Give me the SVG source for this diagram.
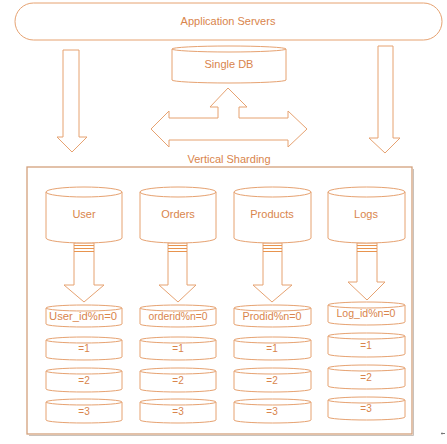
<svg xmlns="http://www.w3.org/2000/svg" width="447" height="444" viewBox="0 0 447 444">
<style>
.s{fill:#fff;stroke:#E6A271;stroke-width:1}
.t{font-family:"Liberation Sans",Arial,sans-serif;fill:#D9854C;text-anchor:middle;dominant-baseline:central}
.big{font-size:11px}
.sm{font-size:10px}
.h{stroke:#E8944E;stroke-width:1.2}
</style>
<rect width="447" height="444" fill="#fff"/>
<g id="frame">
<rect x="27" y="167" width="385" height="267" fill="none" stroke="#D3A07C" stroke-width="1.3"/>
<path d="M413.5 169 V435.5 H29" fill="none" stroke="#C9C2BC" stroke-width="1"/>
</g>
<g id="app-servers">
<rect class="s" x="15" y="3" width="427" height="37" rx="18.5"/>
<text class="t big" x="228" y="21">Application Servers</text>
</g>
<g id="single-db">
<path class="s" d="M172 49 a57 3 0 0 0 114 0 a57 3 0 0 0 -114 0 v31 a57 3 0 0 0 114 0 v-31"/>
<text class="t big" x="229" y="64">Single DB</text>
</g>
<g id="connectors">
<polygon class="s" points="63,50 79,50 79,137 87,137 72,152 57,137 63,137"/>
<polygon class="s" points="378,46 393,46 393,138 400,138 385,153 369,138 378,138"/>
<polygon class="s" points="228,88 247,107 239,107 239,118 288,118 288,111 307,129 288,147 288,140 169,140 169,147 151,129 169,111 169,118 218,118 218,107 210,107"/>
<polygon class="s" points="74,243 94,243 94,285 104,285 84,302 64,285 74,285"/>
<polygon class="s" points="168,243 187,243 187,285 196,285 178,302 159,285 168,285"/>
<polygon class="s" points="263,243 282,243 282,285 292,285 272,302 253,285 263,285"/>
<polygon class="s" points="357,243 377,243 377,282 385,282 367,300 348,282 357,282"/>
<path class="h" d="M74 245.5h20M74 248.5h20M74 251.5h20M168 245.5h19M168 248.5h19M168 251.5h19M263 245.5h19M263 248.5h19M263 251.5h19M357 245.5h20M357 248.5h20M357 251.5h20"/>
</g>
<text class="t big" x="229" y="159">Vertical Sharding</text>
<g id="user">
<path class="s" d="M46 192 a38 5 0 0 0 76 0 a38 5 0 0 0 -76 0 v46 a38 5 0 0 0 76 0 v-46"/>
<text class="t big" x="84" y="214">User</text>
</g>
<g id="orders">
<path class="s" d="M140 192 a38 5 0 0 0 76 0 a38 5 0 0 0 -76 0 v46 a38 5 0 0 0 76 0 v-46"/>
<text class="t big" x="178" y="214">Orders</text>
</g>
<g id="products">
<path class="s" d="M234 192 a38.5 5 0 0 0 77 0 a38.5 5 0 0 0 -77 0 v46 a38.5 5 0 0 0 77 0 v-46"/>
<text class="t big" x="272" y="214">Products</text>
</g>
<g id="logs">
<path class="s" d="M328 192 a38.5 5 0 0 0 77 0 a38.5 5 0 0 0 -77 0 v46 a38.5 5 0 0 0 77 0 v-46"/>
<text class="t big" x="366" y="214">Logs</text>
</g>
<g id="user-shards">
<path class="s" d="M46 308 a38 3 0 0 0 76 0 a38 3 0 0 0 -76 0 v16 a38 3 0 0 0 76 0 v-16"/>
<text class="t sm" x="83" y="316" textLength="68" lengthAdjust="spacingAndGlyphs">User_id%n=0</text>
<path class="s" d="M46 340 a38 3 0 0 0 76 0 a38 3 0 0 0 -76 0 v17 a38 3 0 0 0 76 0 v-17"/>
<text class="t sm" x="84" y="348">=1</text>
<path class="s" d="M46 371 a38 3 0 0 0 76 0 a38 3 0 0 0 -76 0 v18 a38 3 0 0 0 76 0 v-18"/>
<text class="t sm" x="84" y="380">=2</text>
<path class="s" d="M46 402 a38 3 0 0 0 76 0 a38 3 0 0 0 -76 0 v18 a38 3 0 0 0 76 0 v-18"/>
<text class="t sm" x="84" y="411">=3</text>
</g>
<g id="order-shards">
<path class="s" d="M140 308 a38 3 0 0 0 76 0 a38 3 0 0 0 -76 0 v16 a38 3 0 0 0 76 0 v-16"/>
<text class="t sm" x="178" y="316" textLength="59" lengthAdjust="spacingAndGlyphs">orderid%n=0</text>
<path class="s" d="M140 340 a38 3 0 0 0 76 0 a38 3 0 0 0 -76 0 v17 a38 3 0 0 0 76 0 v-17"/>
<text class="t sm" x="178" y="348">=1</text>
<path class="s" d="M140 371 a38 3 0 0 0 76 0 a38 3 0 0 0 -76 0 v18 a38 3 0 0 0 76 0 v-18"/>
<text class="t sm" x="178" y="380">=2</text>
<path class="s" d="M140 402 a38 3 0 0 0 76 0 a38 3 0 0 0 -76 0 v18 a38 3 0 0 0 76 0 v-18"/>
<text class="t sm" x="178" y="411">=3</text>
</g>
<g id="product-shards">
<path class="s" d="M234 308 a38.5 3 0 0 0 77 0 a38.5 3 0 0 0 -77 0 v16 a38.5 3 0 0 0 77 0 v-16"/>
<text class="t sm" x="272" y="316" textLength="59" lengthAdjust="spacingAndGlyphs">Prodid%n=0</text>
<path class="s" d="M234 340 a38.5 3 0 0 0 77 0 a38.5 3 0 0 0 -77 0 v17 a38.5 3 0 0 0 77 0 v-17"/>
<text class="t sm" x="272" y="348">=1</text>
<path class="s" d="M234 371 a38.5 3 0 0 0 77 0 a38.5 3 0 0 0 -77 0 v18 a38.5 3 0 0 0 77 0 v-18"/>
<text class="t sm" x="272" y="380">=2</text>
<path class="s" d="M234 402 a38.5 3 0 0 0 77 0 a38.5 3 0 0 0 -77 0 v18 a38.5 3 0 0 0 77 0 v-18"/>
<text class="t sm" x="272" y="411">=3</text>
</g>
<g id="log-shards">
<path class="s" d="M328 305 a38.5 3 0 0 0 77 0 a38.5 3 0 0 0 -77 0 v17 a38.5 3 0 0 0 77 0 v-17"/>
<text class="t sm" x="366" y="313" textLength="59" lengthAdjust="spacingAndGlyphs">Log_id%n=0</text>
<path class="s" d="M328 336 a38.5 3 0 0 0 77 0 a38.5 3 0 0 0 -77 0 v18 a38.5 3 0 0 0 77 0 v-18"/>
<text class="t sm" x="366" y="345">=1</text>
<path class="s" d="M328 368 a38.5 3 0 0 0 77 0 a38.5 3 0 0 0 -77 0 v18 a38.5 3 0 0 0 77 0 v-18"/>
<text class="t sm" x="366" y="377">=2</text>
<path class="s" d="M328 400 a38.5 3 0 0 0 77 0 a38.5 3 0 0 0 -77 0 v17 a38.5 3 0 0 0 77 0 v-17"/>
<text class="t sm" x="366" y="408">=3</text>
</g>
<path d="M441 433.5 h4 M442 432.5 v2" stroke="#777" stroke-width="1"/>
</svg>
